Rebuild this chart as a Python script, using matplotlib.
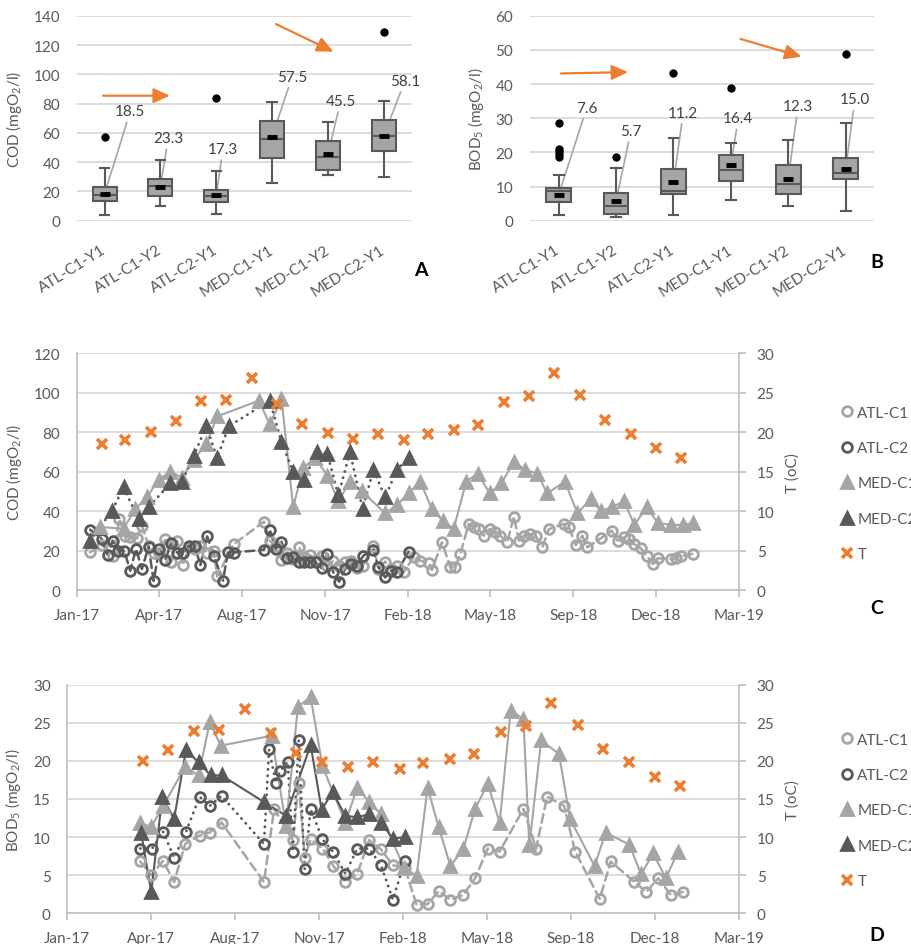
import numpy as np
import pandas as pd
import matplotlib
matplotlib.use('Agg')
import matplotlib.pyplot as plt
from matplotlib.lines import Line2D

plt.rcParams['font.family'] = ['Lato', 'DejaVu Sans']
plt.rcParams['mathtext.default'] = 'regular'

TXT = '#595959'
LIGHT = '#a5a5a5'
DARK = '#595959'
ORANGE = '#ED7D31'
GRID = '#d9d9d9'
AXIS = '#bfbfbf'

# ---------------- box plots (A: COD, B: BOD5) ----------------
groups = ['ATL-C1-Y1', 'ATL-C1-Y2', 'ATL-C2-Y1', 'MED-C1-Y1', 'MED-C1-Y2', 'MED-C2-Y1']

cod_whislo = [3.9, 10.2, 4.6, 25.5, 31.0, 29.8]
cod_q1 = [13.2, 17.1, 12.5, 42.6, 34.6, 47.3]
cod_med = [17.8, 23.4, 17.1, 55.8, 43.7, 58.0]
cod_q3 = [22.8, 28.2, 20.9, 67.8, 54.6, 68.5]
cod_whishi = [35.7, 41.2, 33.9, 80.8, 67.6, 81.9]
cod_mean = [18.5, 23.3, 17.3, 57.5, 45.5, 58.1]
cod_fliers = [[56.9], [], [83.8], [], [], [128.6]]

bod_whislo = [1.65, 1.0, 1.65, 6.1, 4.4, 2.7]
bod_q1 = [5.6, 2.1, 7.8, 11.7, 7.8, 12.1]
bod_med = [8.6, 4.2, 8.75, 14.7, 10.7, 14.1]
bod_q3 = [9.6, 8.1, 15.1, 19.2, 16.3, 18.4]
bod_whishi = [13.5, 15.3, 24.3, 22.6, 23.5, 28.6]
bod_mean = [7.6, 5.7, 11.2, 16.4, 12.3, 15.0]
bod_fliers = [[18.5, 19.5, 20.5, 21.0, 28.6], [18.7], [43.3], [38.8], [], [48.9]]

# ---------------- time series (C: COD, D: BOD5) ----------------
# x values are days after 15 Jan 2017
base = pd.Timestamp('2017-01-15')

atl_c1_cod_day = [16, 30, 44, 51, 58, 64, 72, 78, 86, 92, 99, 106, 113, 120, 127, 134, 141, 148,
                  156, 164, 168, 188, 224, 231, 238, 245, 252, 259, 266, 272, 279, 286, 293, 300,
                  307, 314, 321, 328, 335, 342, 355, 361, 369, 376, 383, 391, 403, 411, 421, 425,
                  437, 447, 453, 459, 469, 475, 481, 487, 494, 501, 507, 515, 523, 529, 535, 542,
                  549, 557, 565, 583, 589, 597, 605, 611, 627, 640, 647, 655, 661, 667, 675, 682,
                  689, 695, 711, 717, 723, 737]
atl_c1_cod = [19.1, 22.8, 17.4, 36.0, 27.2, 26.7, 26.2, 32.6, 22.5, 19.0, 18.8, 25.9, 14.4, 25.0,
              12.7, 21.6, 20.8, 22.5, 19.0, 20.0, 6.9, 23.3, 34.6, 25.0, 22.5, 15.4, 19.0, 15.7,
              21.6, 16.6, 17.7, 15.4, 17.4, 12.0, 14.9, 12.3, 14.4, 14.9, 11.0, 12.3, 22.5, 10.6,
              14.4, 10.6, 12.0, 9.0, 16.6, 14.9, 13.7, 10.1, 24.2, 11.5, 11.5, 18.3, 33.5, 31.8,
              30.9, 27.5, 30.9, 29.2, 27.5, 24.2, 37.2, 25.0, 27.5, 28.4, 27.5, 21.6, 30.9, 33.5,
              31.8, 22.8, 27.5, 21.6, 26.2, 30.1, 25.0, 26.7, 25.9, 23.3, 21.1, 17.4, 13.2, 16.1,
              15.7, 16.1, 17.1, 18.3]

atl_c2_cod_day = [16, 30, 37, 43, 50, 57, 64, 71, 78, 86, 92, 99, 106, 113, 120, 127, 134, 141,
                  148, 156, 164, 175, 181, 188, 224, 231, 238, 245, 252, 259, 266, 272, 279, 286,
                  293, 300, 307, 314, 321, 328, 335, 343, 355, 361, 369, 376, 383, 397]
atl_c2_cod = [30.6, 25.9, 17.7, 25.0, 20.0, 19.8, 9.8, 20.8, 10.6, 22.0, 4.6, 21.0, 15.2, 23.8,
              19.0, 19.0, 22.5, 22.5, 12.7, 27.2, 17.4, 4.7, 19.4, 19.0, 20.4, 30.6, 20.8, 24.5,
              16.2, 16.6, 14.4, 14.0, 14.4, 14.0, 11.0, 18.3, 9.0, 4.2, 10.6, 13.2, 12.3, 17.4,
              20.4, 11.5, 6.4, 9.8, 9.0, 19.4]

med_c1_cod_day = [28, 56, 70, 84, 98, 112, 126, 140, 155, 168, 218, 231, 245, 259, 271, 285, 300,
                  313, 327, 341, 369, 383, 397, 411, 425, 438, 451, 466, 480, 494, 508, 523, 536,
                  551, 563, 584, 599, 615, 627, 640, 655, 667, 682, 695, 711, 725, 737]
med_c1_cod = [32, 31, 41, 47, 56, 60, 57, 66, 74, 88, 96, 84, 97, 42, 62, 67, 58, 45, 55, 50, 39,
              43, 49, 55, 41, 35, 31, 55, 59, 49, 54, 65, 61, 59, 49, 55, 39, 46, 40, 42, 45, 33,
              42, 34, 33, 33, 34]

med_c2_cod_day = [16, 42, 56, 74, 86, 112, 126, 140, 155, 168, 182, 231, 245, 259, 272, 287, 300,
                  313, 327, 342, 355, 369, 383, 397]
med_c2_cod = [25, 40, 52, 36, 42, 54, 55, 68, 83, 67, 83, 96, 75, 60, 56, 70, 69, 48, 70, 41, 61,
              47, 61, 67]

atl_c1_bod_day = [86, 99, 113, 126, 139, 156, 168, 182, 232, 244, 266, 273, 280, 287, 301, 314,
                  328, 342, 356, 370, 384, 398, 412, 425, 438, 452, 467, 481, 496, 510, 538, 553,
                  566, 586, 599, 628, 641, 669, 683, 697, 712, 726]
atl_c1_bod = [6.8, 5.0, 6.9, 4.1, 9.1, 10.2, 10.6, 11.9, 4.1, 13.7, 9.6, 17.1, 7.3, 9.7, 8.5, 6.2,
              4.1, 5.2, 9.6, 8.4, 6.3, 6.0, 1.1, 1.2, 2.9, 1.8, 2.4, 4.6, 8.5, 8.1, 13.7, 8.5, 15.3,
              14.1, 8.1, 1.9, 6.8, 4.1, 2.8, 4.6, 2.4, 2.8]

atl_c2_bod_day = [86, 100, 113, 126, 140, 156, 168, 182, 232, 238, 246, 251, 260, 266, 273, 280,
                  287, 301, 314, 328, 342, 356, 370, 384, 398]
atl_c2_bod = [8.5, 8.5, 10.7, 7.3, 10.7, 15.3, 14.1, 15.4, 9.1, 21.5, 17.1, 18.7, 19.9, 8.1, 22.7,
              5.8, 13.7, 9.7, 8.0, 5.2, 8.5, 8.5, 6.3, 1.8, 6.8]

med_c1_bod_day = [86, 99, 113, 139, 155, 168, 181, 241, 258, 272, 287, 301, 328, 342, 356, 370,
                  397, 412, 425, 438, 452, 467, 481, 496, 510, 523, 538, 545, 559, 580, 593, 622,
                  635, 663, 677, 691, 706, 720]
med_c1_bod = [11.9, 11.3, 14.1, 19.2, 18.1, 25.1, 22.0, 23.3, 11.5, 27.1, 28.4, 19.3, 11.9, 16.5,
              14.6, 13.0, 6.0, 4.9, 16.5, 11.3, 6.2, 8.4, 13.7, 17.0, 11.9, 26.6, 25.5, 8.9, 22.7,
              20.9, 12.4, 6.2, 10.6, 9.0, 5.1, 7.9, 4.6, 8.0]

med_c2_bod_day = [87, 99, 112, 126, 140, 155, 169, 182, 232, 258, 287, 300, 313, 328, 342, 356,
                  370, 384, 398]
med_c2_bod = [10.6, 2.8, 15.3, 12.4, 21.4, 19.8, 18.1, 18.1, 14.6, 12.8, 22.1, 13.6, 15.9, 12.8,
              12.6, 13.0, 11.9, 9.8, 10.0]

temp_day = [30, 58, 89, 119, 149, 179, 210, 240, 270, 301, 331, 361, 392, 420, 451, 480, 511, 541,
            571, 602, 632, 663, 693, 723]
temp = [18.5, 19.05, 20.0, 21.4, 23.9, 24.1, 26.85, 23.6, 21.05, 19.9, 19.15, 19.8, 18.95, 19.75,
        20.3, 20.9, 23.8, 24.6, 27.55, 24.7, 21.5, 19.8, 17.95, 16.75]

series_names = ['ATL-C1', 'ATL-C2', 'MED-C1', 'MED-C2']


def to_dates(days):
    return base + pd.to_timedelta(np.asarray(days), unit='D')


def box_panel(ax, lo, q1, med, q3, hi, mean, fliers, ymax, ylabel, label_pos, arrows):
    stats = []
    for i in range(len(groups)):
        stats.append(dict(whislo=lo[i], q1=q1[i], med=med[i], q3=q3[i], whishi=hi[i],
                          mean=mean[i], fliers=fliers[i]))
    ax.bxp(stats, positions=range(len(groups)), widths=0.43, capwidths=0.17,
           patch_artist=True, showmeans=True, zorder=2,
           boxprops=dict(facecolor=LIGHT, edgecolor=DARK, lw=1.5),
           medianprops=dict(color=DARK, lw=1.5),
           whiskerprops=dict(color=DARK, lw=1.5),
           capprops=dict(color=DARK, lw=1.5),
           meanprops=dict(marker='_', markeredgecolor='black', markersize=7, markeredgewidth=3.5),
           flierprops=dict(marker='o', markerfacecolor='black', markeredgecolor='black',
                           markersize=5))
    for i, m in enumerate(mean):
        ax.annotate(f'{m:.1f}', xy=(i, m), xytext=label_pos[i], ha='center', va='center',
                    fontsize=11, color='#404040', zorder=1,
                    arrowprops=dict(arrowstyle='-', color='#a6a6a6', lw=1.2,
                                    shrinkA=1, shrinkB=0))
    for (x0, y0), (x1, y1) in arrows:
        ax.annotate('', xy=(x1, y1), xytext=(x0, y0), zorder=3,
                    arrowprops=dict(arrowstyle='-|>,head_length=0.55,head_width=0.25',
                                    color=ORANGE, lw=1.6, shrinkA=0, shrinkB=0,
                                    mutation_scale=18))
    ax.set_xlim(-0.5, len(groups) - 0.5)
    ax.set_ylim(0, ymax)
    ax.set_yticks(np.linspace(0, ymax, 8 if ymax == 140 else 7))
    ax.set_xticks(range(len(groups)))
    ax.set_xticklabels(groups, rotation=32, ha='right', va='center', rotation_mode='anchor')
    ax.tick_params(axis='both', length=0, labelsize=11, labelcolor=TXT)
    ax.tick_params(axis='y', pad=12)
    ax.tick_params(axis='x', pad=20)
    ax.yaxis.grid(True, color=GRID, lw=1.3)
    ax.set_axisbelow(True)
    for s in ax.spines.values():
        s.set_visible(False)
    ax.set_ylabel(ylabel, fontsize=11, color=TXT, labelpad=7)


def ts_panel(ax, data, styles, t_days, t_vals, ymax, ylabel, legend_y):
    for (days, vals), name, st in zip(data, series_names, styles):
        ax.plot(to_dates(days), vals, color=st['color'], lw=st['lw'], ls=st['ls'],
                dash_capstyle='round', zorder=2)
    for (days, vals), name, st in zip(data, series_names, styles):
        mfc = 'none' if st['marker'] == 'o' else st['color']
        ax.plot(to_dates(days), vals, ls='none', marker=st['marker'], ms=st['ms'],
                mfc=mfc, mec=st['color'], mew=2, zorder=3)
    ax2 = ax.twinx()
    ax2.plot(to_dates(t_days), t_vals, ls='none', marker='x', ms=7, mew=2.6, color=ORANGE)

    ax.set_xlim(base, base + pd.Timedelta(days=792))
    ticks = [base + pd.Timedelta(days=99 * k) for k in range(9)]
    ax.set_xticks(ticks)
    ax.set_xticklabels([t.strftime('%b-%y') for t in ticks])
    ax.set_ylim(0, ymax)
    ax.set_yticks(np.linspace(0, ymax, 7))
    ax2.set_ylim(0, 30)
    ax2.set_yticks(np.arange(0, 31, 5))
    ax.yaxis.grid(True, color=GRID, lw=1.3)
    ax.set_axisbelow(True)

    ax.tick_params(axis='x', length=5, color=AXIS, width=1.2, pad=8, labelsize=11, labelcolor=TXT)
    ax.tick_params(axis='y', length=0, pad=12, labelsize=11, labelcolor=TXT)
    ax2.tick_params(axis='y', length=5, color=AXIS, width=1.2, pad=8, labelsize=11,
                    labelcolor=TXT)
    for a in (ax, ax2):
        for s in a.spines.values():
            s.set_visible(False)
    ax.spines['left'].set_visible(True)
    ax.spines['bottom'].set_visible(True)
    ax2.spines['right'].set_visible(True)
    for s in (ax.spines['left'], ax.spines['bottom'], ax2.spines['right']):
        s.set_color(AXIS)
        s.set_linewidth(1.2)
    ax.set_ylabel(ylabel, fontsize=11, color=TXT, labelpad=7)
    ax2.set_ylabel('T (oC)', fontsize=11, color=TXT, labelpad=8)

    handles = [Line2D([], [], ls='none', marker=st['marker'], ms=st['ms'],
                      mfc='none' if st['marker'] == 'o' else st['color'],
                      mec=st['color'], mew=2) for st in styles]
    handles.append(Line2D([], [], ls='none', marker='x', ms=7, mew=2.6, color=ORANGE))
    fig.legend(handles, series_names + ['T'], loc='center left',
               bbox_to_anchor=(839 / 912, 1 - legend_y / 945), frameon=False, fontsize=11,
               labelcolor=TXT, labelspacing=1.4, handlelength=1.0, handletextpad=0.2,
               borderpad=0, borderaxespad=0)


fig = plt.figure(figsize=(9.12, 9.45), dpi=100)
axA = fig.add_axes([0.0841, 0.7654, 0.3673, 0.2169])
axB = fig.add_axes([0.5811, 0.7654, 0.3776, 0.2169])
axC = fig.add_axes([0.0841, 0.3746, 0.7259, 0.2505])
axD = fig.add_axes([0.0738, 0.0325, 0.7362, 0.2419])

box_panel(axA, cod_whislo, cod_q1, cod_med, cod_q3, cod_whishi, cod_mean, cod_fliers, 140,
          'COD (mgO$_2$/l)',
          [(0.46, 74.7), (1.14, 56.3), (2.12, 49.0), (3.36, 98.4), (4.23, 82.0), (5.38, 95.6)],
          [((-0.03, 85.4), (1.17, 85.4)), ((3.07, 134.3), (4.1, 115.4))])
box_panel(axB, bod_whislo, bod_q1, bod_med, bod_q3, bod_whishi, bod_mean, bod_fliers, 60,
          'BOD$_5$ (mgO$_2$/l)',
          [(0.49, 33.1), (1.26, 26.3), (2.17, 31.6), (3.13, 30.0), (4.17, 33.5), (5.16, 35.5)],
          [((0.04, 43.1), (1.21, 43.5)), ((3.17, 53.2), (4.23, 48.0))])

style_c = [dict(color=LIGHT, marker='o', ms=7, ls=(0, (3.5, 2)), lw=1.8),
           dict(color=DARK, marker='o', ms=7, ls=(0, (3.5, 2)), lw=1.8),
           dict(color=LIGHT, marker='^', ms=8.5, ls='-', lw=1.5),
           dict(color=DARK, marker='^', ms=8.5, ls=(0, (0.1, 2.2)), lw=2)]
style_d = [dict(color=LIGHT, marker='o', ms=7, ls=(0, (3.5, 2)), lw=1.8),
           dict(color=DARK, marker='o', ms=7, ls=(0, (0.1, 2.2)), lw=2),
           dict(color=LIGHT, marker='^', ms=8.5, ls='-', lw=1.5),
           dict(color=DARK, marker='^', ms=8.5, ls='-', lw=1.5)]

ts_panel(axC, [(atl_c1_cod_day, atl_c1_cod), (atl_c2_cod_day, atl_c2_cod),
               (med_c1_cod_day, med_c1_cod), (med_c2_cod_day, med_c2_cod)],
         style_c, temp_day, temp, 120, 'COD (mgO$_2$/l)', 484.5)
# BOD panel: temperature shown from April 2017 on
ts_panel(axD, [(atl_c1_bod_day, atl_c1_bod), (atl_c2_bod_day, atl_c2_bod),
               (med_c1_bod_day, med_c1_bod), (med_c2_bod_day, med_c2_bod)],
         style_d, temp_day[2:], temp[2:], 30, 'BOD$_5$ (mgO$_2$/l)', 811.4)

for letter, x, y in [('A', 421, 270), ('B', 877, 262), ('C', 877, 608), ('D', 877, 936)]:
    fig.text(x / 912, 1 - y / 945, letter, ha='center', va='center', fontsize=14,
             fontweight='bold', color='black')

fig.savefig('out.png', dpi=100)
